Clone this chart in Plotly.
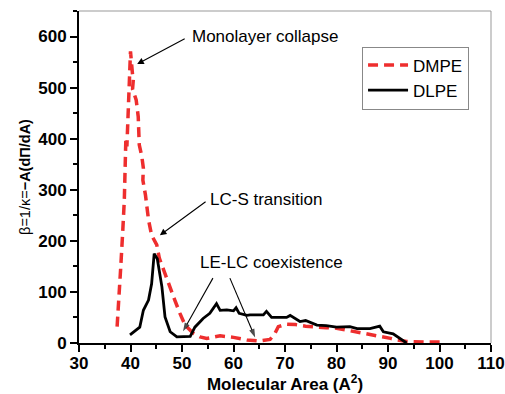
import plotly.graph_objects as go

# Compressibility modulus curves vs. molecular area
dmpe_area = [37.4, 37.8, 38.1, 38.5, 38.8, 39.0, 39.1, 39.3, 39.5, 39.7, 39.9, 40.0,
             40.2, 40.4, 40.6, 40.4, 41.1, 41.5, 41.7, 42.2, 42.5, 42.4, 42.9, 43.5,
             44.1, 44.6, 45.1, 45.6, 46.4, 47.7, 48.6, 49.6, 50.6, 52.2, 53.5, 54.8,
             56.0, 57.4, 60.0, 62.6, 65.0, 67.1, 68.0, 68.7, 70.3, 72.0, 74.0, 76.0,
             78.0, 80.0, 82.6, 84.0, 85.9, 87.5, 89.1, 90.5, 91.7, 93.6, 97.0, 100.7]
dmpe_beta = [32, 90, 148, 220, 280, 360, 400, 385, 440, 500, 540, 571,
             548, 525, 522, 497, 476, 443, 388, 365, 342, 319, 290, 241,
             211, 202, 192, 166, 143, 110, 84, 58, 35, 19, 12, 9,
             11, 14, 11, 6, 4, 7, 18, 32, 37, 36, 33, 31,
             30, 29, 24, 22, 19, 15, 12, 9, 6, 3, 2, 2]

dlpe_area = [39.9, 41.8, 42.5, 43.5, 44.1, 44.6, 45.2, 46.1, 46.7, 47.7, 49.0, 51.6,
             52.5, 54.1, 55.4, 56.7, 57.4, 58.7, 60.0, 60.5, 61.1, 62.6, 63.2, 65.8,
             66.4, 67.4, 70.3, 71.0, 72.9, 74.0, 76.2, 78.0, 80.0, 82.6, 84.0, 86.5,
             88.4, 89.1, 91.0, 93.6]
dlpe_beta = [16, 31, 64, 84, 116, 175, 165, 110, 51, 22, 12, 13,
             31, 48, 58, 77, 64, 65, 63, 69, 58, 54, 55, 55,
             62, 50, 50, 54, 42, 44, 35, 34, 31, 32, 28, 28,
             33, 22, 18, 0]

x_ticks = [30, 40, 50, 60, 70, 80, 90, 100, 110]
y_ticks = [0, 100, 200, 300, 400, 500, 600]

FONT = "Liberation Sans, Arial, sans-serif"
LABEL_FONT = dict(family=FONT, size=17, color="black")
ARROW = dict(showarrow=True, arrowhead=2, arrowsize=1.2, arrowwidth=1.1,
             arrowcolor="black", standoff=0, axref="x", ayref="y")

fig = go.Figure()
fig.add_trace(go.Scatter(x=dmpe_area, y=dmpe_beta, mode="lines", name="DMPE",
                         line=dict(color="#ee2e2e", width=3.5, dash="10px,6px")))
fig.add_trace(go.Scatter(x=dlpe_area, y=dlpe_beta, mode="lines", name="DLPE",
                         line=dict(color="black", width=2.8)))

# Labels whose arrows leave from the left edge of the text
fig.add_annotation(text="Monolayer collapse", x=41.3, y=546, ax=51.55, ay=601,
                   xanchor="left", yanchor="middle", startstandoff=6,
                   font=LABEL_FONT, **ARROW)
fig.add_annotation(text="LC-S transition", x=45.7, y=211, ax=55.05, ay=280,
                   xanchor="left", yanchor="middle", startstandoff=3,
                   font=LABEL_FONT, **ARROW)

# Coexistence label with two pointers drawn from below the text
fig.add_annotation(text="LE-LC coexistence", x=53.1, y=158, showarrow=False,
                   xanchor="left", yanchor="middle", font=LABEL_FONT)
pointers = [((56.0, 50.2), (127, 23)), ((59.3, 64.2), (127, 11))]
for px, py in pointers:
    fig.add_trace(go.Scatter(
        x=list(px), y=list(py), mode="lines+markers", showlegend=False,
        hoverinfo="skip", line=dict(color="black", width=1.1),
        marker=dict(symbol="arrow", angleref="previous", size=[0, 9],
                    color="black", line=dict(width=0)),
        cliponaxis=False))

axis_common = dict(showline=True, linecolor="black", linewidth=2, mirror=False,
                   ticks="outside", ticklen=7, tickwidth=2, tickcolor="black",
                   showgrid=False, zeroline=False, automargin=False,
                   tickfont=dict(family=FONT, size=17, color="black", weight="bold"))

fig.update_xaxes(range=[30, 110], tickvals=x_ticks, ticklabelstandoff=-3,
                 minor=dict(ticks="outside", ticklen=4, tickwidth=1.5,
                            tickcolor="black", dtick=5, tick0=30),
                 title=dict(text="<b>Molecular Area (A<sup>2</sup>)</b>",
                            font=dict(family=FONT, size=17, color="black"), standoff=2),
                 **axis_common)
fig.update_yaxes(range=[0, 650], tickvals=y_ticks,
                 minor=dict(ticks="outside", ticklen=4, tickwidth=1.5,
                            tickcolor="black", dtick=50, tick0=0),
                 title=dict(text="β=1/κ=<b>−A(dΠ/dA)</b>",
                            font=dict(family=FONT, size=14.5, color="black"), standoff=4),
                 **axis_common)

# Light frame on the top and right sides
fig.add_shape(type="line", xref="paper", yref="paper", x0=0, x1=1, y0=1, y1=1,
              line=dict(color="#999999", width=1))
fig.add_shape(type="line", xref="paper", yref="paper", x0=1, x1=1, y0=0, y1=1,
              line=dict(color="#999999", width=1))

fig.update_layout(
    width=505, height=394,
    margin=dict(l=79, r=14, t=11, b=51),
    paper_bgcolor="white", plot_bgcolor="white",
    font=dict(family=FONT, color="black"),
    legend=dict(x=0.687, y=0.893, xanchor="left", yanchor="top",
                bordercolor="#888888", borderwidth=1, bgcolor="white",
                font=dict(family=FONT, size=17, color="black"),
                itemwidth=40, tracegroupgap=0),
)

fig.write_html("out.html")
